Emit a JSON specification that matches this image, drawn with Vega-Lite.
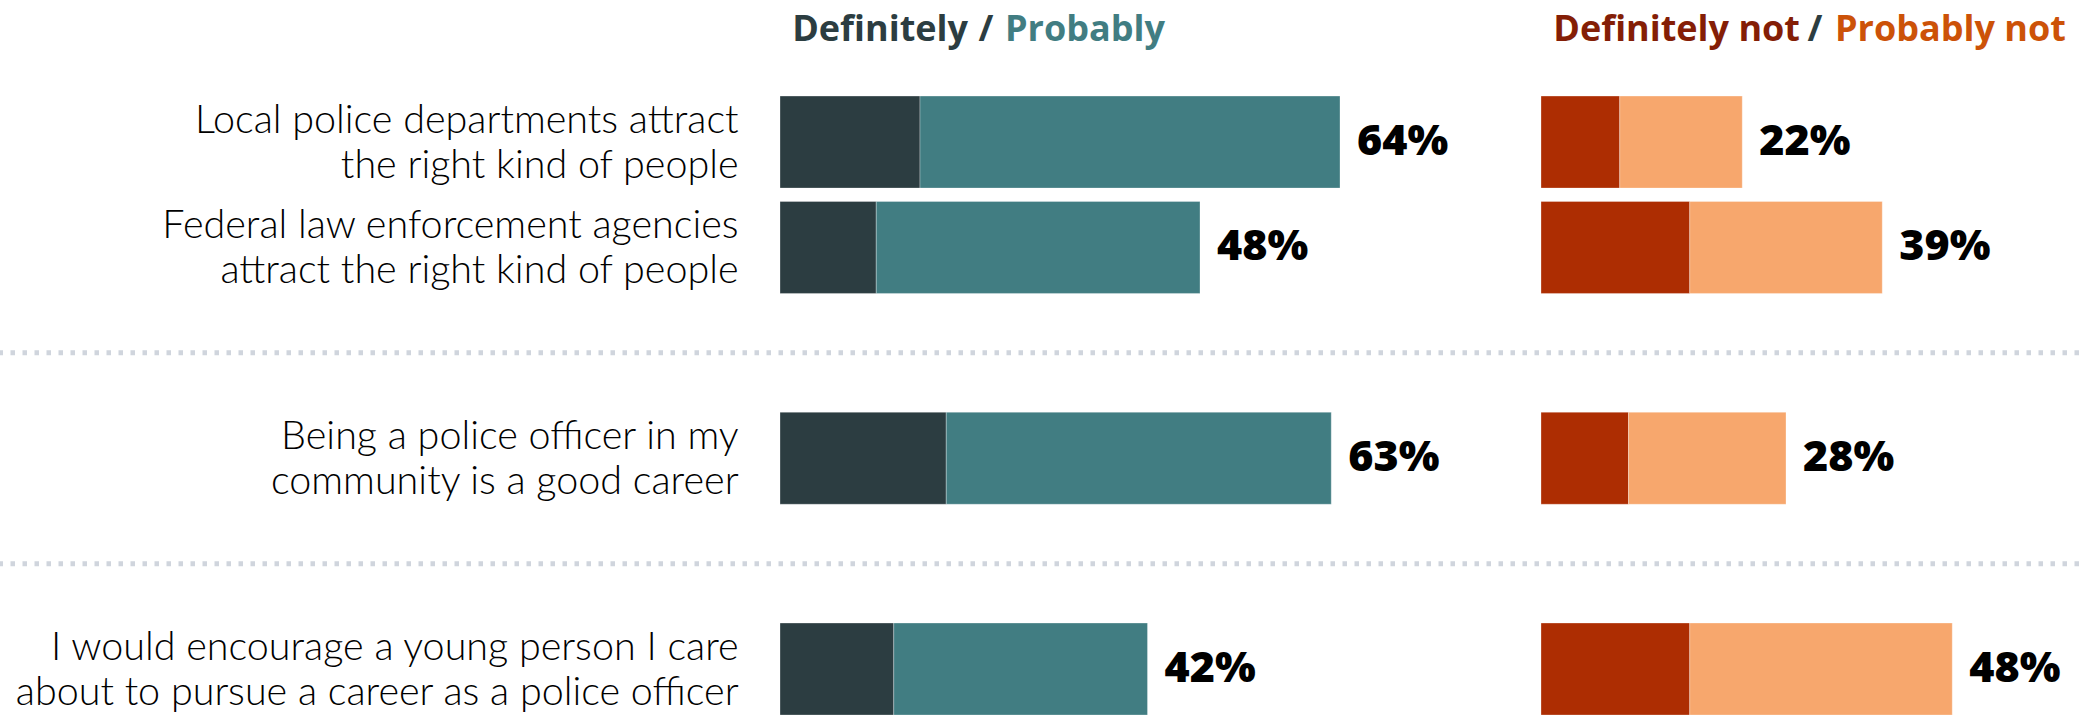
{
  "$schema": "https://vega.github.io/schema/vega-lite/v6.json",
  "width": 2083,
  "height": 717,
  "autosize": {"type": "none"},
  "padding": 0,
  "background": "white",
  "config": {"view": {"stroke": null}},
  "datasets": {
    "bars": [
      {"item": "local", "side": "left", "response": "Definitely", "value": 16},
      {"item": "local", "side": "left", "response": "Probably", "value": 48},
      {"item": "federal", "side": "left", "response": "Definitely", "value": 11},
      {"item": "federal", "side": "left", "response": "Probably", "value": 37},
      {"item": "career", "side": "left", "response": "Definitely", "value": 19},
      {"item": "career", "side": "left", "response": "Probably", "value": 44},
      {"item": "encourage", "side": "left", "response": "Definitely", "value": 13},
      {"item": "encourage", "side": "left", "response": "Probably", "value": 29},
      {"item": "local", "side": "right", "response": "Definitely not", "value": 9},
      {"item": "local", "side": "right", "response": "Probably not", "value": 14},
      {"item": "federal", "side": "right", "response": "Definitely not", "value": 17},
      {"item": "federal", "side": "right", "response": "Probably not", "value": 22},
      {"item": "career", "side": "right", "response": "Definitely not", "value": 10},
      {"item": "career", "side": "right", "response": "Probably not", "value": 18},
      {"item": "encourage", "side": "right", "response": "Definitely not", "value": 17},
      {"item": "encourage", "side": "right", "response": "Probably not", "value": 30}
    ],
    "totals": [
      {"item": "local", "side": "left", "end": 64, "label": "64%"},
      {"item": "federal", "side": "left", "end": 48, "label": "48%"},
      {"item": "career", "side": "left", "end": 63, "label": "63%"},
      {"item": "encourage", "side": "left", "end": 42, "label": "42%"},
      {"item": "local", "side": "right", "end": 23, "label": "22%"},
      {"item": "federal", "side": "right", "end": 39, "label": "39%"},
      {"item": "career", "side": "right", "end": 28, "label": "28%"},
      {"item": "encourage", "side": "right", "end": 47, "label": "48%"}
    ],
    "labels": [
      {"item": "local", "label": ["Local police departments attract", "the right kind of people"]},
      {"item": "federal", "label": ["Federal law enforcement agencies", "attract the right kind of people"]},
      {"item": "career", "label": ["Being a police officer in my", "community is a good career"]},
      {"item": "encourage", "label": ["I would encourage a young person I care", "about to pursue a career as a police officer"]}
    ],
    "seps": [{"item": "sep1"}, {"item": "sep2"}]
  },
  "resolve": {"scale": {"x": "independent"}},
  "layer": [
    {
      "data": {"name": "seps"},
      "mark": {"type": "rule", "color": "#d0d5dd", "strokeWidth": 5, "strokeDash": [4.5, 7.5], "strokeDashOffset": 8},
      "encoding": {
        "y": {"field": "item", "type": "nominal", "axis": null,
          "scale": {"type": "band", "domain": ["local", "federal", "sep1", "career", "sep2", "encourage"], "paddingInner": 0.127, "paddingOuter": 0.465, "align": 0.98}}
      }
    },
    {
      "layer": [
        {
          "data": {"name": "bars"},
          "transform": [{"filter": "datum.side === 'left'"}],
          "mark": {"type": "bar", "stroke": "#ffffff", "strokeWidth": 1, "strokeOpacity": 0.3},
          "encoding": {
            "y": {"field": "item", "type": "nominal", "axis": null},
            "x": {"field": "value", "type": "quantitative", "stack": "zero", "axis": null,
              "scale": {"domain": [-89.143, 148.914], "nice": false, "zero": false}},
            "color": {"field": "response", "type": "nominal", "legend": null,
              "scale": {"domain": ["Definitely", "Probably", "Definitely not", "Probably not"], "range": ["#2c3d41", "#417d82", "#ad2d02", "#f7a76d"]}}
          }
        },
        {
          "data": {"name": "totals"},
          "transform": [{"filter": "datum.side === 'left'"}],
          "mark": {"type": "text", "align": "left", "baseline": "middle", "dx": 17, "font": "Open Sans", "fontWeight": 800, "fontSize": 43, "color": "#000000"},
          "encoding": {
            "y": {"field": "item", "type": "nominal", "axis": null},
            "x": {"field": "end", "type": "quantitative", "axis": null,
              "scale": {"domain": [-89.143, 148.914], "nice": false, "zero": false}},
            "text": {"field": "label"}
          }
        },
        {
          "data": {"name": "labels"},
          "mark": {"type": "text", "align": "right", "baseline": "alphabetic", "dy": -9, "font": "Lato", "fontWeight": 300, "fontSize": 39.5, "lineHeight": 45, "color": "#000000"},
          "encoding": {
            "y": {"field": "item", "type": "nominal", "axis": null},
            "x": {"datum": -4.73, "type": "quantitative", "axis": null,
              "scale": {"domain": [-89.143, 148.914], "nice": false, "zero": false}},
            "text": {"field": "label"}
          }
        },
        {
          "data": {"values": [{"item": "local", "t": "Definitely"}]},
          "mark": {"type": "text", "align": "right", "baseline": "alphabetic", "dy": -101, "font": "Open Sans", "fontWeight": 700, "fontSize": 36, "color": "#2c3d41"},
          "encoding": {
            "y": {"field": "item", "type": "nominal", "axis": null},
            "x": {"datum": 21.49, "type": "quantitative", "axis": null,
              "scale": {"domain": [-89.143, 148.914], "nice": false, "zero": false}},
            "text": {"field": "t"}
          }
        },
        {
          "data": {"values": [{"item": "local", "t": "/"}]},
          "mark": {"type": "text", "align": "center", "baseline": "alphabetic", "dy": -101, "font": "Open Sans", "fontWeight": 700, "fontSize": 36, "color": "#2c3d41"},
          "encoding": {
            "y": {"field": "item", "type": "nominal", "axis": null},
            "x": {"datum": 23.54, "type": "quantitative", "axis": null,
              "scale": {"domain": [-89.143, 148.914], "nice": false, "zero": false}},
            "text": {"field": "t"}
          }
        },
        {
          "data": {"values": [{"item": "local", "t": "Probably"}]},
          "mark": {"type": "text", "align": "left", "baseline": "alphabetic", "dy": -101, "font": "Open Sans", "fontWeight": 700, "fontSize": 36, "color": "#417d82"},
          "encoding": {
            "y": {"field": "item", "type": "nominal", "axis": null},
            "x": {"datum": 25.71, "type": "quantitative", "axis": null,
              "scale": {"domain": [-89.143, 148.914], "nice": false, "zero": false}},
            "text": {"field": "t"}
          }
        }
      ]
    },
    {
      "layer": [
        {
          "data": {"name": "bars"},
          "transform": [{"filter": "datum.side === 'right'"}],
          "mark": {"type": "bar", "stroke": "#ffffff", "strokeWidth": 1, "strokeOpacity": 0.3},
          "encoding": {
            "y": {"field": "item", "type": "nominal", "axis": null},
            "x": {"field": "value", "type": "quantitative", "stack": "zero", "axis": null,
              "scale": {"domain": [-176.114, 61.943], "nice": false, "zero": false}},
            "color": {"field": "response", "type": "nominal", "legend": null}
          }
        },
        {
          "data": {"name": "totals"},
          "transform": [{"filter": "datum.side === 'right'"}],
          "mark": {"type": "text", "align": "left", "baseline": "middle", "dx": 17, "font": "Open Sans", "fontWeight": 800, "fontSize": 43, "color": "#000000"},
          "encoding": {
            "y": {"field": "item", "type": "nominal", "axis": null},
            "x": {"field": "end", "type": "quantitative", "axis": null,
              "scale": {"domain": [-176.114, 61.943], "nice": false, "zero": false}},
            "text": {"field": "label"}
          }
        },
        {
          "data": {"values": [{"item": "local", "t": "Definitely not"}]},
          "mark": {"type": "text", "align": "right", "baseline": "alphabetic", "dy": -101, "font": "Open Sans", "fontWeight": 700, "fontSize": 36, "color": "#841e06"},
          "encoding": {
            "y": {"field": "item", "type": "nominal", "axis": null},
            "x": {"datum": 29.6, "type": "quantitative", "axis": null,
              "scale": {"domain": [-176.114, 61.943], "nice": false, "zero": false}},
            "text": {"field": "t"}
          }
        },
        {
          "data": {"values": [{"item": "local", "t": "/"}]},
          "mark": {"type": "text", "align": "center", "baseline": "alphabetic", "dy": -101, "font": "Open Sans", "fontWeight": 700, "fontSize": 36, "color": "#2c3d41"},
          "encoding": {
            "y": {"field": "item", "type": "nominal", "axis": null},
            "x": {"datum": 31.31, "type": "quantitative", "axis": null,
              "scale": {"domain": [-176.114, 61.943], "nice": false, "zero": false}},
            "text": {"field": "t"}
          }
        },
        {
          "data": {"values": [{"item": "local", "t": "Probably not"}]},
          "mark": {"type": "text", "align": "left", "baseline": "alphabetic", "dy": -101, "font": "Open Sans", "fontWeight": 700, "fontSize": 36, "color": "#cc5208"},
          "encoding": {
            "y": {"field": "item", "type": "nominal", "axis": null},
            "x": {"datum": 33.6, "type": "quantitative", "axis": null,
              "scale": {"domain": [-176.114, 61.943], "nice": false, "zero": false}},
            "text": {"field": "t"}
          }
        }
      ]
    }
  ]
}
